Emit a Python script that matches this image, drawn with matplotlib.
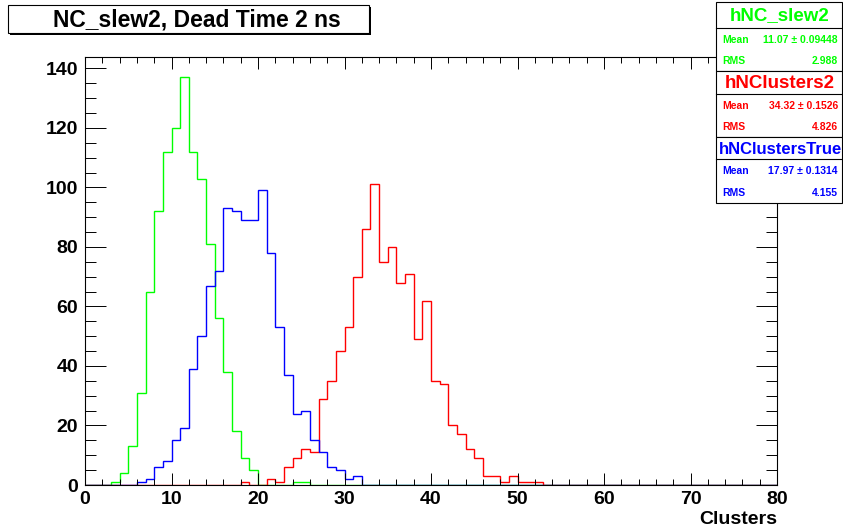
import numpy as np
import matplotlib.pyplot as plt
from matplotlib.patches import Rectangle

plt.rcParams['font.family'] = ['Liberation Sans', 'DejaVu Sans']
plt.rcParams['font.weight'] = 'bold'

W, H = 843, 529

# bin edges 0..80, one cluster per bin
edges = np.arange(0, 81)

# counts, first value sits in bin *_start
green_start = 3
green_counts = [1, 4, 13, 31, 65, 92, 112, 120, 137, 112, 103, 81, 56, 38, 18,
                9, 5, 0, 0, 0, 0, 1, 1]
red_start = 18
red_counts = [1, 0, 0, 2, 1, 6, 9, 12, 11, 29, 35, 45, 53, 70, 86, 101, 75, 80,
              68, 71, 49, 62, 35, 34, 20, 17, 12, 9, 3, 3, 1, 3, 1, 1, 1]
blue_start = 6
blue_counts = [1, 2, 6, 8, 15, 19, 39, 50, 67, 72, 93, 92, 89, 89, 99, 78, 53,
               37, 24, 25, 15, 11, 6, 5, 2, 3]

names = ["hNC_slew2", "hNClusters2", "hNClustersTrue"]
means = ["11.07", "34.32", "17.97"]
mean_errs = ["0.09448", "0.1526", "0.1314"]
rms = ["2.988", "4.826", "4.155"]
colors = ["#00ff00", "#ff0000", "#0000ff"]


def full(start, vals):
    c = np.zeros(len(edges) - 1)
    c[start:start + len(vals)] = vals
    return c


fig = plt.figure(figsize=(W / 100, H / 100), dpi=100)
ax = fig.add_axes([85 / W, (H - 485) / H, (777 - 85) / W, (485 - 57) / H])

for start, vals, col in [(green_start, green_counts, colors[0]),
                         (red_start, red_counts, colors[1]),
                         (blue_start, blue_counts, colors[2])]:
    ax.stairs(full(start, vals), edges, color=col, lw=1.0)

ax.set_xlim(0, 80)
ax.set_ylim(0, 143.85)
ax.set_xticks(np.arange(0, 81, 10))
ax.set_xticks(np.arange(0, 81, 2), minor=True)
ax.set_yticks(np.arange(0, 141, 20))
ax.set_yticks(np.arange(0, 144, 5), minor=True)
ax.tick_params(which='both', direction='in', top=True, right=True, width=0.7,
               labelsize=14, colors='black')
ax.tick_params(axis='x', which='major', length=8.6, pad=4)
ax.tick_params(axis='x', which='minor', length=4.3)
ax.tick_params(axis='y', which='major', length=15, pad=5)
ax.tick_params(axis='y', which='minor', length=8)
for lab in ax.get_xticklabels() + ax.get_yticklabels():
    lab.set_fontweight('bold')
for s in ax.spines.values():
    s.set_linewidth(0.8)

# overlay in pixel coordinates for title box and stat boxes
ov = fig.add_axes([0, 0, 1, 1], zorder=5)
ov.set_xlim(0, W)
ov.set_ylim(H, 0)
ov.axis('off')

ov.text(777, 519, "Clusters", ha='right', va='center', fontsize=14,
        fontweight='bold')

# title box with a small shadow
ov.add_patch(Rectangle((9.5, 6.5), 361, 28, facecolor='black', lw=0))
ov.add_patch(Rectangle((8, 5), 361, 28, facecolor='white', edgecolor='black', lw=0.8))
ov.text(197, 19.5, "NC_slew2, Dead Time 2 ns", ha='center', va='center',
        fontsize=16.5, fontweight='bold')

# stat boxes
tops = [2, 71, 137]
bots = [71, 137, 203]
divs = [28, 94, 159]
bx0, bx1 = 716, 842
for i in range(3):
    ov.add_patch(Rectangle((bx0, tops[i]), bx1 - bx0, bots[i] - tops[i],
                           facecolor='white', edgecolor='black', lw=0.8))
    ov.plot([bx0, bx1], [divs[i], divs[i]], color='black', lw=0.8)
    tsize = 13.5 if i < 2 else 12
    ov.text((bx0 + bx1) / 2 + 1, (tops[i] + divs[i]) / 2 + 1, names[i], ha='center',
            va='center', fontsize=tsize, fontweight='bold', color=colors[i])
    ym = divs[i] + (bots[i] - divs[i]) * 0.27
    yr = divs[i] + (bots[i] - divs[i]) * 0.77
    ov.text(722, ym, "Mean", ha='left', va='center', fontsize=7.5,
            fontweight='bold', color=colors[i])
    ov.text(838, ym, f"{means[i]} \u00b1 {mean_errs[i]}", ha='right', va='center',
            fontsize=7.5, fontweight='bold', color=colors[i])
    ov.text(722, yr, "RMS", ha='left', va='center', fontsize=7.5,
            fontweight='bold', color=colors[i])
    ov.text(838, yr, rms[i], ha='right', va='center', fontsize=7.5,
            fontweight='bold', color=colors[i])

fig.savefig("out.png", dpi=100)
